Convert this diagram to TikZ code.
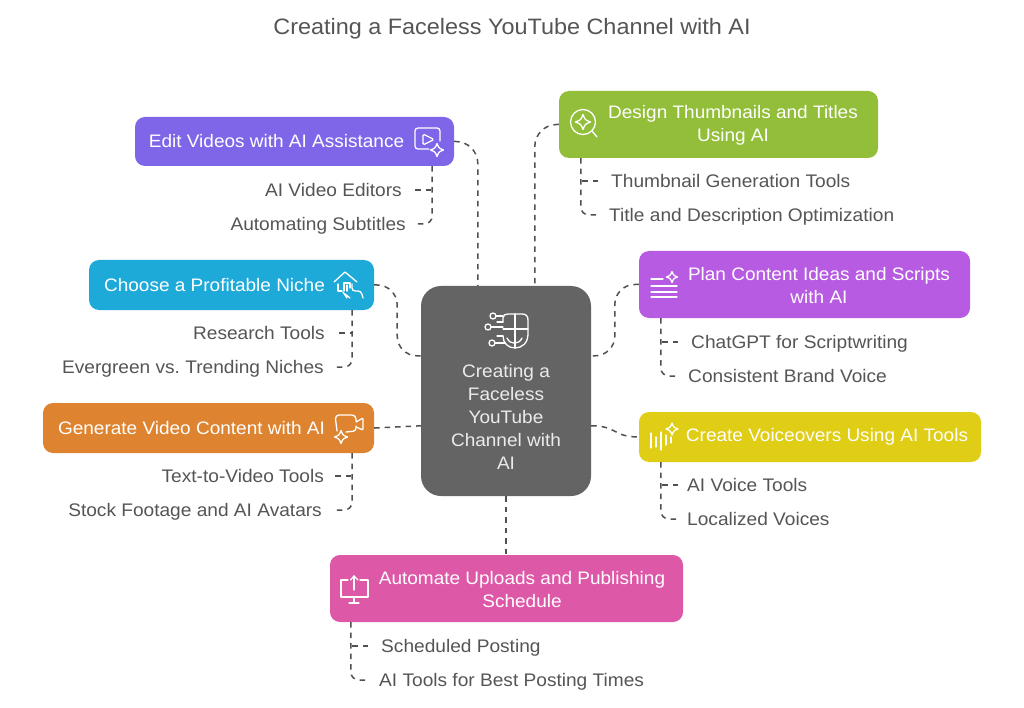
\documentclass[tikz,border=0pt]{standalone}
\usepackage{fontspec}
\setmainfont[FakeStretch=1.05]{Liberation Sans}
\usetikzlibrary{calc}
\frenchspacing
\definecolor{cedit}{HTML}{7F66E8}
\definecolor{cdesign}{HTML}{92BE39}
\definecolor{cchoose}{HTML}{1EAAD9}
\definecolor{cgen}{HTML}{DE8431}
\definecolor{cplan}{HTML}{B85BE3}
\definecolor{cvoice}{HTML}{E0CD16}
\definecolor{cauto}{HTML}{DE58A8}
\definecolor{ccenter}{HTML}{646464}
\definecolor{ctext}{HTML}{555555}
\definecolor{clink}{HTML}{505050}
\tikzset{
  x=1pt,y=-1pt,
  box/.style={rounded corners=10pt,inner sep=0pt,draw=none},
  head/.style={text=white,align=center,inner sep=0pt,font=\frenchspacing\fontsize{18.1}{23}\selectfont},
  kid/.style={text=ctext,inner sep=0pt,text height=13pt,text depth=0pt,font=\frenchspacing\fontsize{18.2}{23}\selectfont},
  link/.style={draw=clink,line width=1.5pt,dash pattern=on 5.5pt off 5pt},
  ico/.style={draw=white,line width=1.3pt,line cap=round,line join=round},
  sparkle/.pic={\draw[ico] (0,-1) .. controls (.28,-.28) .. (1,0) .. controls (.28,.28) .. (0,1) .. controls (-.28,.28) .. (-1,0) .. controls (-.28,-.28) .. cycle;}
}
\newcommand\boxat[6]{\node[box,fill=#2,minimum width=#5pt-#3pt,minimum height=#6pt-#4pt] (#1) at ({(#3+#5)/2},{(#4+#6)/2}) {};}
\begin{document}
\begin{tikzpicture}
\useasboundingbox (0,0) rectangle (1024,708);
\fill[white] (0,0) rectangle (1024,708);
\node[text=ctext,inner sep=0pt,font=\fontsize{22.3}{27}\selectfont] (title) at (512,29) {Creating a Faceless YouTube Channel with AI};

% boxes
\node[box,rounded corners=20pt,fill=ccenter,minimum width=170pt,minimum height=210pt] (c) at (506,391) {};
\boxat{edit}{cedit}{135}{117}{454}{166}
\boxat{design}{cdesign}{559}{91}{878}{158}
\boxat{choose}{cchoose}{89}{260}{374}{310}
\boxat{gen}{cgen}{43}{403}{374}{453}
\boxat{plan}{cplan}{639}{251}{970}{318}
\boxat{voice}{cvoice}{639}{412}{981}{462}
\boxat{auto}{cauto}{330}{555}{683}{622}

% labels
\node[head,text=white!92!black] (ctxt) at (506,417) {Creating a\\Faceless\\YouTube\\Channel with\\AI};
\node[head] (ledit) at (276.5,141) {Edit Videos with AI Assistance};
\node[head] (ldesign) at (733,125.5) {Design Thumbnails and Titles\\Using AI};
\node[head] (lchoose) at (214.5,285) {Choose a Profitable Niche};
\node[head] (lgen) at (191.5,428) {Generate Video Content with AI};
\node[head] (lplan) at (819,285.5) {Plan Content Ideas and Scripts\\with AI};
\node[head] (lvoice) at (827,437) {Create Voiceovers Using AI Tools};
\node[head] (lauto) at (522,589.5) {Automate Uploads and Publishing\\Schedule};

% children
\node[kid,anchor=east] (e1) at (402,190) {AI Video Editors};
\node[kid,anchor=east] (e2) at (406,224) {Automating Subtitles};
\node[kid,anchor=west] (d1) at (611,181) {Thumbnail Generation Tools};
\node[kid,anchor=west] (d2) at (609,215) {Title and Description Optimization};
\node[kid,anchor=east] (h1) at (325,333) {Research Tools};
\node[kid,anchor=east] (h2) at (324,367) {Evergreen vs. Trending Niches};
\node[kid,anchor=east] (g1) at (324,476) {Text-to-Video Tools};
\node[kid,anchor=east] (g2) at (322,510) {Stock Footage and AI Avatars};
\node[kid,anchor=west] (p1) at (691,342) {ChatGPT for Scriptwriting};
\node[kid,anchor=west] (p2) at (688,376) {Consistent Brand Voice};
\node[kid,anchor=west] (v1) at (687,485) {AI Voice Tools};
\node[kid,anchor=west] (v2) at (687,519) {Localized Voices};
\node[kid,anchor=west] (a1) at (381,646) {Scheduled Posting};
\node[kid,anchor=west] (a2) at (379,680) {AI Tools for Best Posting Times};

% main connectors
\coordinate (cA) at ($(c.north west)+(57,0)$);
\coordinate (cB) at ($(c.north west)+(114,0)$);
\coordinate (cL) at ($(c.north west)+(0,70)$);
\coordinate (cR) at ($(c.north east)+(0,70)$);
\coordinate (cL2) at ($(c.north west)+(0,140)$);
\coordinate (cR2) at ($(c.north east)+(0,140)$);
\draw[link,rounded corners=22pt] (edit.east) -| (cA);
\draw[link,rounded corners=22pt] (design.west) -| (cB);
\draw[link,rounded corners=20pt] (choose.east) -- ++(23,0) -- ++(0,71) -- (cL);
\draw[link,rounded corners=20pt] (plan.west) -- ++(-24,0) -- ++(0,71.5) -- (cR);
\draw[link] (gen.east) -- (cL2);
\draw[link] (cR2) .. controls ($(cR2)+(26,0)$) and ($(voice.west)+(-26,0)$) .. (voice.west);
\draw[link] (c.south) -- (auto.north -| c.south);

% child connectors
\coordinate (te) at ([xshift=-22]edit.south east);
\draw[link] ([xshift=13]e1.east) -- (e1.east -| te);
\draw[link,rounded corners=8pt] (te) |- ([xshift=8]e2.east);
\coordinate (td) at ([xshift=22]design.south west);
\draw[link] ([xshift=-13]d1.west) -- (d1.west -| td);
\draw[link,rounded corners=8pt] (td) |- ([xshift=-11]d2.west);
\coordinate (th) at ([xshift=-22]choose.south east);
\draw[link] ([xshift=14]h1.east) -- (h1.east -| th);
\draw[link,rounded corners=8pt] (th) |- ([xshift=10]h2.east);
\coordinate (tg) at ([xshift=-22]gen.south east);
\draw[link] ([xshift=11]g1.east) -- (g1.east -| tg);
\draw[link,rounded corners=8pt] (tg) |- ([xshift=11]g2.east);
\coordinate (tp) at ([xshift=22]plan.south west);
\draw[link] ([xshift=-13]p1.west) -- (p1.west -| tp);
\draw[link,rounded corners=8pt] (tp) |- ([xshift=-8]p2.west);
\coordinate (tv) at ([xshift=22]voice.south west);
\draw[link] ([xshift=-9]v1.west) -- (v1.west -| tv);
\draw[link,rounded corners=8pt] (tv) |- ([xshift=-9]v2.west);
\coordinate (ta) at ([xshift=21]auto.south west);
\draw[link] ([xshift=-13]a1.west) -- (a1.west -| ta);
\draw[link,rounded corners=8pt] (ta) |- ([xshift=-9]a2.west);

% icon: edit
\draw[ico,rounded corners=3pt] (440,141) -- (440,128) -- (415,128) -- (415,149) -- (429,149);
\draw[ico,rounded corners=1.5pt] (423,134) -- (423,145) -- (434,139.5) -- cycle;
\pic[scale=6.5] at (437,150) {sparkle};
% icon: design
\draw[ico] (583,122) circle (12.5);
\pic[scale=7.5] at (583,122) {sparkle};
\draw[ico] (592,131) -- (597,137);
% icon: choose
\draw[ico] (334,282) -- (345,272) -- (357,282);
\draw[ico] (338,284) -- (338,291) -- (342,291);
\draw[ico] (344,291) -- (344,283) -- (350,283) -- (350,288);
\draw[ico] (347,298) -- (343,292) ;
\draw[ico] (347,291) -- (347,285);
\draw[ico,rounded corners=3pt] (352,284) -- (352,291) -- (361,291) -- (363,298);
\draw[ico] (345,294) -- (350,298);
% icon: gen
\draw[ico,rounded corners=4pt] (337,431) -- (335,415) -- (356,415) -- (356,421);
\draw[ico,rounded corners=1pt] (356,422) -- (363,418) -- (363,430) -- (356,427);
\draw[ico,rounded corners=3pt] (356,426) -- (356,431) -- (346,432);
\pic[scale=6.5] at (341,437) {sparkle};
% icon: plan
\draw[ico] (651,279) -- (663,279);
\draw[ico] (651,286) -- (677,286);
\draw[ico] (651,292) -- (677,292);
\draw[ico] (651,297) -- (677,297);
\pic[scale=5.5] at (672,277) {sparkle};
% icon: voice
\draw[ico] (651,433) -- (651,448);
\draw[ico] (656,437) -- (656,447);
\draw[ico] (661,432) -- (661,450);
\draw[ico] (666,435) -- (666,445);
\draw[ico] (671,437) -- (671,443);
\pic[scale=6] at (672,429) {sparkle};
% icon: auto
\draw[ico] (348,580) -- (341,580) -- (341,597) -- (368,597) -- (368,580) -- (360,580);
\draw[ico] (354,590) -- (354,576);
\draw[ico] (350.5,580) -- (354,576) -- (358,580);
\draw[ico] (354,597) -- (354,603);
\draw[ico] (349,603) -- (359,603);
% icon: centre
\draw[ico] (503,322) -- (503,318) .. controls (503,315) and (505,314) .. (508,314) -- (522,314) .. controls (526,314) and (528,316) .. (528,320) -- (528,334) .. controls (528,343) and (522,348) .. (515,348) .. controls (508,348) and (503,343) .. (503,336);
\draw[ico] (515,314) -- (515,348);
\draw[ico] (503,329) -- (528,329);
\draw[ico] (507,338) .. controls (510,345) and (519,345) .. (522,338);
\draw[ico] (493,316) circle (3);
\draw[ico] (488,327) circle (3);
\draw[ico] (492,343) circle (3);
\draw[ico] (496,316) -- (503,316);
\draw[ico] (491,327) -- (503,327);
\draw[ico] (495,343) -- (505,343);
\draw[ico] (497,322) -- (503,322);
\draw[ico] (497,336) -- (503,336);
\end{tikzpicture}
\end{document}
